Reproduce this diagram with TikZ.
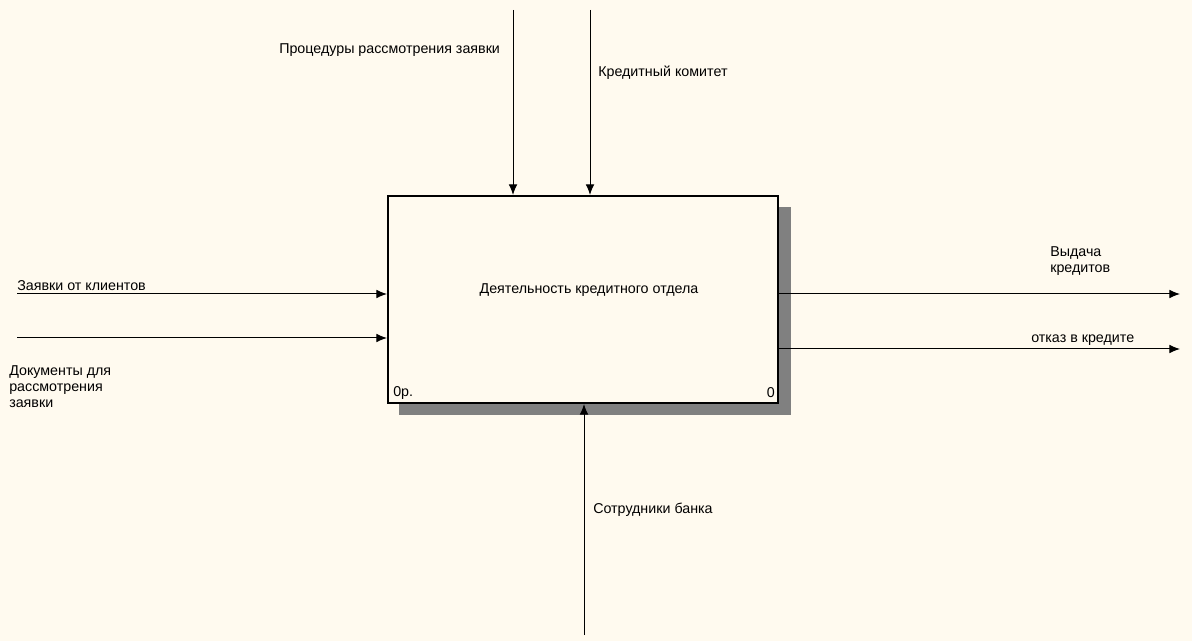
\documentclass[tikz,border=0pt]{standalone}
\usepackage{fontspec}
\setmainfont{Liberation Sans}
\usetikzlibrary{arrows.meta}
\definecolor{bg}{HTML}{FFFAEF}
\begin{document}
\begin{tikzpicture}[x=0.75pt,y=-0.75pt,
  lbl/.style={font=\fontsize{10.7pt}{12.2pt}\selectfont, inner sep=0pt, align=left},
  conn/.style={line width=0.75pt, -{Latex[length=8pt,width=6.5pt]}},
  shadow/.style={fill=black!50, draw=none}]
\fill[bg] (0,0) rectangle (1192,641);
\useasboundingbox (0,0) rectangle (1192,641);
% shadow
\fill[shadow] (779,207) rectangle (791,415);
\fill[shadow] (399,404) rectangle (791,415);
% main box
\node[draw, line width=1.5pt, fill=bg, minimum width=390*0.75pt, minimum height=207*0.75pt, inner sep=0pt] (box) at (583,299.5) {};
\node[lbl, anchor=center] (title) at (589,290) {Деятельность кредитного отдела};
\node[lbl, anchor=west] (nr) at (393,393) {0р.};
\node[lbl, anchor=east] (num) at (775,393) {0};
% free ends
\coordinate (c1) at (513,10);
\coordinate (c2) at (590,10);
\coordinate (i1) at (17,294);
\coordinate (i2) at (17,338);
\coordinate (o1) at (1180,294);
\coordinate (o2) at (1180,349);
\coordinate (m1) at (584,635);
% connectors
\draw[conn] (c1) -- (c1 |- box.north);
\draw[conn] (c2) -- (c2 |- box.north);
\draw[conn] (i1) -- (i1 -| box.west);
\draw[conn] (i2) -- (i2 -| box.west);
\draw[conn] (o1 -| box.east) -- (o1);
\draw[conn] (o2 -| box.east) -- (o2);
\draw[conn] (m1) -- (m1 |- box.south);
% labels
\node[lbl, anchor=west] (lc1) at (279,50) {Процедуры рассмотрения заявки};
\node[lbl, anchor=west] (lc2) at (598,73) {Кредитный комитет};
\node[lbl, anchor=west] (li1) at (17,286) {Заявки от клиентов};
\node[lbl, anchor=north west] (li2) at (9,365) {Документы для\\рассмотрения\\заявки};
\node[lbl, anchor=north west] (lo1) at (1050,246) {Выдача\\кредитов};
\node[lbl, anchor=west] (lo2) at (1031,340) {отказ в кредите};
\node[lbl, anchor=west] (lm1) at (593,510) {Сотрудники банка};
\end{tikzpicture}
\end{document}
